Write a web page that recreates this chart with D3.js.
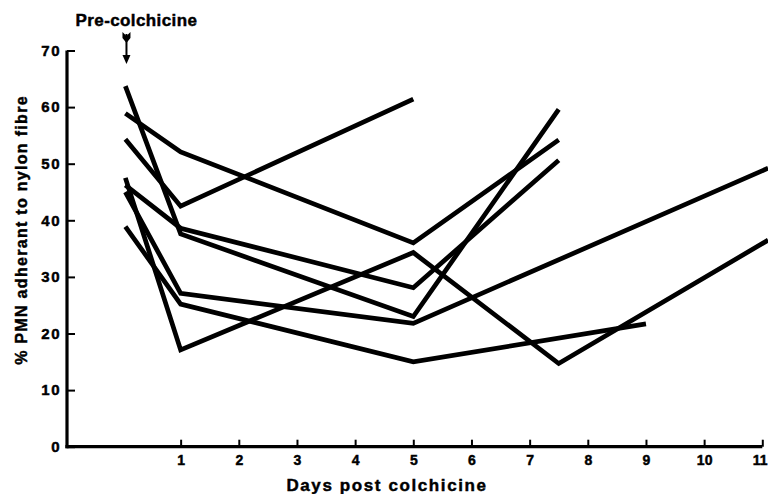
<!DOCTYPE html>
<html>
<head>
<meta charset="utf-8">
<script src="https://cdn.jsdelivr.net/npm/d3@7"></script>
<style>
  body { margin: 0; background: #fff; }
  svg { display: block; }
  text { font-family: "Liberation Sans", Arial, sans-serif; font-weight: bold; fill: #000; stroke: #000; stroke-width: 0.45px; }
</style>
</head>
<body>
<svg width="768" height="494"></svg>
<script>
// days after colchicine for each patient and the % adherent
var dayTicks = [1, 2, 3, 4, 5, 6, 7, 8, 9, 10, 11];
var pctTicks = [0, 10, 20, 30, 40, 50, 60, 70];

var seriesDays = [
  [0.05, 1, 5, 7.5],
  [0.05, 1, 5, 7.5],
  [0.05, 1, 5],
  [0.05, 1, 5, 7.5, 11.1],
  [0.05, 1, 5, 7.5],
  [0.05, 1, 5, 11.1],
  [0.05, 1, 5, 9]
];
var seriesValues = [
  [63.7, 37.6, 23.0, 59.6],
  [58.9, 52.1, 36.0, 54.2],
  [54.3, 42.5, 61.4],
  [47.5, 17.1, 34.3, 14.7, 36.5],
  [46.2, 38.6, 28.1, 50.6],
  [45.0, 27.1, 21.8, 49.2],
  [38.9, 25.2, 15.0, 21.7]
];

var svg = d3.select('svg');

var x = d3.scaleLinear().domain([-1, 11]).range([64.3, 762.3]);
var y = d3.scaleLinear().domain([0, 70]).range([446.7, 50.5]);

// axes, ticks point inward like the original
var xAxis = d3.axisBottom(x).tickValues(dayTicks).tickSizeInner(-7).tickSizeOuter(0).tickPadding(8);
var yAxis = d3.axisLeft(y).tickValues(pctTicks).tickSizeInner(-8).tickSizeOuter(0).tickPadding(6);

var gx = svg.append('g').attr('transform', 'translate(0,' + y(0) + ')').call(xAxis);
var gy = svg.append('g').attr('transform', 'translate(' + 67 + ',0)').call(yAxis);

gx.select('.domain').attr('stroke', '#000').attr('stroke-width', 3.2).attr('d', 'M' + (67 - 1.6) + ',0H' + x(11));
gy.select('.domain').attr('stroke', '#000').attr('stroke-width', 3.2).attr('d', 'M0,' + y(70) + 'V' + (y(0) + 1.6));
gx.selectAll('.tick line').attr('stroke', '#000').attr('stroke-width', 2);
gy.selectAll('.tick line').attr('stroke', '#000').attr('stroke-width', 2);
gx.selectAll('.tick text').attr('font-size', 14).attr('font-family', null).attr('fill', '#000');
gy.selectAll('.tick text').attr('font-size', 15).attr('font-family', null).attr('fill', '#000').attr('letter-spacing', 1.5);

// last day label sits on the page edge, keep it inside
gx.selectAll('.tick text').filter(function(d){ return d === 11; })
  .attr('text-anchor', 'end').attr('x', 767 - x(11));

// the patient lines
var line = d3.line()
  .x(function(d){ return x(d[0]); })
  .y(function(d){ return y(d[1]); });

var lineData = seriesDays.map(function(ds, i){
  return ds.map(function(dd, j){ return [dd, seriesValues[i][j]]; });
});

svg.append('g').selectAll('path')
  .data(lineData)
  .enter().append('path')
  .attr('d', line)
  .attr('fill', 'none')
  .attr('stroke', '#000')
  .attr('stroke-width', 4.7)
  .attr('stroke-linejoin', 'miter');

// axis titles
svg.append('text')
  .attr('x', 387).attr('y', 491)
  .attr('text-anchor', 'middle')
  .attr('font-size', 17)
  .attr('letter-spacing', 1.6)
  .text('Days post colchicine');

svg.append('text')
  .attr('transform', 'translate(27,230) rotate(-90)')
  .attr('text-anchor', 'middle')
  .attr('font-size', 16)
  .attr('letter-spacing', 1.3)
  .text('% PMN adherant to nylon fibre');

// pre-colchicine marker
var ax = x(0) + 4;
svg.append('text')
  .attr('x', ax + 10).attr('y', 26)
  .attr('text-anchor', 'middle')
  .attr('font-size', 17)
  .attr('letter-spacing', 0.4)
  .text('Pre-colchicine');

svg.append('line')
  .attr('x1', ax).attr('x2', ax)
  .attr('y1', 34).attr('y2', 57)
  .attr('stroke', '#000').attr('stroke-width', 2);
svg.append('path')
  .attr('d', 'M' + (ax - 4) + ',55L' + (ax + 4) + ',55L' + ax + ',64Z')
  .attr('fill', '#000');
svg.append('path')
  .attr('d', 'M' + (ax - 4) + ',32L' + ax + ',36L' + (ax + 4) + ',32L' + (ax + 4) + ',38L' + ax + ',43L' + (ax - 4) + ',38Z')
  .attr('fill', '#000');
</script>
</body>
</html>
